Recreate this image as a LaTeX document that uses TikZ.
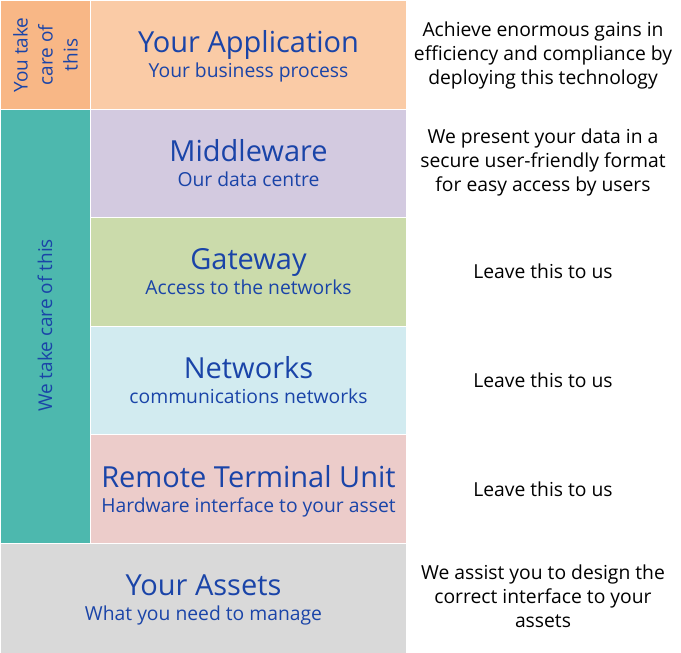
\documentclass[tikz,border=0pt]{standalone}
\usepackage{fontspec}
\setmainfont{Open Sans}
\definecolor{txtblue}{HTML}{1A44A8}
\definecolor{corange}{HTML}{F8B786}
\definecolor{capp}{HTML}{FACBA6}
\definecolor{cteal}{HTML}{4DB8AE}
\definecolor{cmid}{HTML}{D3CAE0}
\definecolor{cgate}{HTML}{CBDBAB}
\definecolor{cnet}{HTML}{D2EBF0}
\definecolor{crtu}{HTML}{ECCCCA}
\definecolor{cass}{HTML}{D9D9D9}
\tikzset{
  layer/.style={draw=white, line width=1pt, inner sep=0pt, anchor=north west, minimum width=316pt, minimum height=108.6pt},
  side/.style={draw=white, line width=1pt, inner sep=0pt, anchor=north west, minimum width=90pt},
  ttl/.style={anchor=base, inner sep=0pt, text=txtblue, font=\fontsize{29}{34}\selectfont},
  sub/.style={anchor=base, inner sep=0pt, text=txtblue, font=\fontsize{19.3}{24}\selectfont},
  vert/.style={rotate=90, align=center, text=txtblue, font=\fontsize{19}{25}\selectfont},
  note/.style={align=center, text=black, font=\fontsize{19.3}{24}\selectfont},
}
\begin{document}
\begin{tikzpicture}[x=1pt,y=1pt]
\useasboundingbox (0,0) rectangle (681,653);
\fill[white] (0,0) rectangle (681,653);
% side bands
\node[side, fill=corange, minimum height=109pt] (you) at (0,653) {};
\node[side, fill=cteal, minimum height=434pt] (we) at (0,544) {};
\node[vert] (youtxt) at (you.center) {You take\\care of\\this};
\node[vert] (wetxt) at (45,327.5) {We take care of this};
% layers
\node[layer, fill=capp] (app) at (90,653) {};
\node[layer, fill=cmid] (mid) at (90,544.4) {};
\node[layer, fill=cgate] (gate) at (90,435.8) {};
\node[layer, fill=cnet] (net) at (90,327.2) {};
\node[layer, fill=crtu] (rtu) at (90,218.6) {};
\node[layer, fill=cass, minimum width=406pt, minimum height=110pt] (ass) at (0,110) {};
% titles
\node[ttl] (appT) at ([yshift=2pt]app.center) {Your Application};
\node[sub] (appS) at ([yshift=-23pt]app.center) {Your business process};
\node[ttl] (midT) at ([yshift=2pt]mid.center) {Middleware};
\node[sub] (midS) at ([yshift=-23pt]mid.center) {Our data centre};
\node[ttl] (gateT) at ([yshift=2pt]gate.center) {Gateway};
\node[sub] (gateS) at ([yshift=-23pt]gate.center) {Access to the networks};
\node[ttl] (netT) at ([yshift=2pt]net.center) {Networks};
\node[sub] (netS) at ([yshift=-23pt]net.center) {communications networks};
\node[ttl] (rtuT) at ([yshift=2pt]rtu.center) {Remote Terminal Unit};
\node[sub] (rtuS) at ([yshift=-23pt]rtu.center) {Hardware interface to your asset};
\node[ttl] (assT) at ([yshift=3pt]ass.center) {Your Assets};
\node[sub] (assS) at ([yshift=-22pt]ass.center) {What you need to manage};
% notes
\node[note] (n1) at (543,598) {Achieve enormous gains in\\efficiency and compliance by\\deploying this technology};
\node[note] (n2) at (543,491) {We present your data in a\\secure user-friendly format\\for easy access by users};
\node[note] (n3) at (543,382) {Leave this to us};
\node[note] (n4) at (543,273) {Leave this to us};
\node[note] (n5) at (543,164) {Leave this to us};
\node[note] (n6) at (543,57) {We assist you to design the\\correct interface to your\\assets};
\end{tikzpicture}
\end{document}
